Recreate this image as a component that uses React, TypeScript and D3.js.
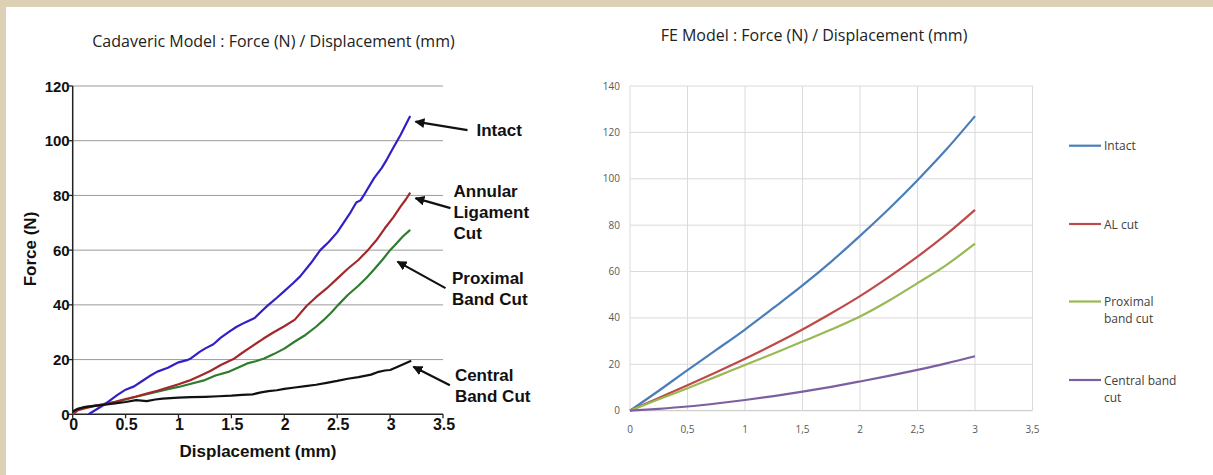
import React from 'react';
import * as d3 from 'd3';

// ---- cadaveric model (left) ----
const cadTicksX = [0, 0.5, 1, 1.5, 2, 2.5, 3, 3.5];
const cadTicksY = [0, 20, 40, 60, 80, 100, 120];

const cadIntact: [number, number][] = [
  [0.15, 0], [0.2, 1.2], [0.25, 2.4], [0.3, 3.6], [0.35, 5], [0.42, 7], [0.5, 9], [0.58, 10.2],
  [0.65, 12], [0.72, 13.8], [0.8, 15.6], [0.9, 17], [1.0, 19], [1.08, 19.8], [1.12, 20.5],
  [1.2, 22.8], [1.25, 24], [1.33, 25.6], [1.4, 28], [1.48, 30.2], [1.55, 32], [1.63, 33.6],
  [1.72, 35.2], [1.8, 38.2], [1.85, 40], [1.93, 42.6], [2.0, 45], [2.08, 47.8], [2.15, 50.4],
  [2.25, 55.2], [2.34, 60], [2.42, 63], [2.5, 66.5], [2.56, 70], [2.62, 73.4], [2.68, 77.4],
  [2.72, 78.2], [2.76, 80.6], [2.85, 86.4], [2.92, 90], [2.97, 93.2], [3.03, 97.4],
  [3.1, 102.2], [3.15, 106], [3.19, 109],
];
const cadAL: [number, number][] = [
  [0, 0], [0.05, 1.5], [0.12, 2.2], [0.2, 3], [0.3, 3.8], [0.4, 4.6], [0.5, 5.6], [0.6, 6.5],
  [0.7, 7.6], [0.8, 8.6], [0.9, 9.8], [1.0, 11], [1.1, 12.3], [1.2, 14], [1.3, 15.8],
  [1.4, 18], [1.52, 20.2], [1.6, 22.4], [1.7, 25], [1.8, 27.6], [1.9, 30], [2.0, 32.2],
  [2.1, 34.6], [2.21, 39.6], [2.3, 42.8], [2.4, 46], [2.5, 49.6], [2.6, 53.2], [2.7, 56.4],
  [2.79, 60], [2.87, 63.6], [2.95, 68], [3.03, 72], [3.1, 76], [3.15, 78.6], [3.19, 81],
];
const cadProx: [number, number][] = [
  [0, 1], [0.05, 2], [0.1, 2.6], [0.2, 3.1], [0.3, 3.5], [0.4, 4.4], [0.5, 5.4], [0.6, 6.4],
  [0.75, 7.8], [0.9, 9.2], [1.0, 10], [1.1, 11], [1.25, 12.5], [1.35, 14.2], [1.48, 15.6],
  [1.56, 17], [1.65, 18.6], [1.73, 19.4], [1.81, 20.4], [1.9, 22], [2.0, 24], [2.1, 26.6],
  [2.2, 29], [2.3, 32], [2.37, 34.4], [2.44, 37], [2.51, 40], [2.6, 43.6], [2.7, 47],
  [2.78, 50], [2.85, 53], [2.93, 56.6], [3.0, 60], [3.06, 62.4], [3.12, 65], [3.19, 67.4],
];
const cadCentral: [number, number][] = [
  [0, 1], [0.05, 2], [0.1, 2.5], [0.15, 2.8], [0.22, 3.2], [0.3, 3.5], [0.4, 4], [0.5, 4.5],
  [0.6, 5.2], [0.7, 4.8], [0.78, 5.4], [0.85, 5.7], [1.0, 6.1], [1.12, 6.3], [1.25, 6.4],
  [1.38, 6.6], [1.5, 6.8], [1.6, 7.1], [1.7, 7.3], [1.78, 8], [1.85, 8.5], [1.93, 8.8],
  [2.0, 9.3], [2.1, 9.8], [2.2, 10.3], [2.3, 10.8], [2.4, 11.5], [2.5, 12.2], [2.6, 13],
  [2.7, 13.6], [2.82, 14.5], [2.88, 15.4], [2.95, 16], [3.0, 16.2], [3.05, 17], [3.12, 18.2],
  [3.2, 19.6],
];

// ---- FE model (right) ----
const feTicksX = [0, 0.5, 1, 1.5, 2, 2.5, 3, 3.5];
const feTicksY = [0, 20, 40, 60, 80, 100, 120, 140];
const feIntact: [number, number][] = [
  [0, 0], [0.25, 8.6], [0.5, 17.5], [0.75, 26.2], [1, 35], [1.25, 44.4], [1.5, 54],
  [1.75, 64.3], [2, 75.4], [2.25, 87], [2.5, 99.4], [2.75, 112.6], [3, 127],
];
const feAL: [number, number][] = [
  [0, 0], [0.25, 5.5], [0.5, 11], [0.75, 16.6], [1, 22.4], [1.25, 28.5], [1.5, 35],
  [1.75, 42], [2, 49.4], [2.25, 57.6], [2.5, 66.4], [2.75, 76], [3, 86.6],
];
const feProx: [number, number][] = [
  [0, 0], [0.25, 4.9], [0.5, 9.7], [0.75, 14.7], [1, 19.7], [1.25, 24.7], [1.5, 29.8],
  [1.75, 35], [2, 40.6], [2.25, 47.4], [2.5, 55], [2.75, 62.8], [3, 72],
];
const feCentral: [number, number][] = [
  [0, 0], [0.25, 0.8], [0.5, 1.8], [0.75, 3.1], [1, 4.6], [1.25, 6.3], [1.5, 8.2],
  [1.75, 10.3], [2, 12.6], [2.25, 15], [2.5, 17.6], [2.75, 20.4], [3, 23.5],
];

const W = 1213;
const H = 475;
const bold = '"Liberation Sans", Arial, sans-serif';
const light = '"Open Sans", sans-serif';

export default function App() {
  const lx = d3.scaleLinear().domain([0, 3.5]).range([72.7, 443]);
  const ly = d3.scaleLinear().domain([0, 120]).range([414.3, 86]);
  const rx = d3.scaleLinear().domain([0, 3.5]).range([630, 1032.5]);
  const ry = d3.scaleLinear().domain([0, 140]).range([410.7, 86]);

  const lLine = d3.line<[number, number]>().x(d => lx(d[0])).y(d => ly(d[1]));
  const rLine = d3
    .line<[number, number]>()
    .x(d => rx(d[0]))
    .y(d => ry(d[1]))
    .curve(d3.curveMonotoneX);

  const cadSeries = [
    { data: cadProx, color: '#2f7d2c' },
    { data: cadAL, color: '#a3282c' },
    { data: cadIntact, color: '#3120c4' },
    { data: cadCentral, color: '#111111' },
  ];
  const feSeries = [
    { data: feIntact, color: '#4a7ebb', name: ['Intact'], ly: 145.7 },
    { data: feAL, color: '#be4b48', name: ['AL cut'], ly: 224 },
    { data: feProx, color: '#98b954', name: ['Proximal', 'band cut'], ly: 301.5 },
    { data: feCentral, color: '#7d5fa0', name: ['Central band', 'cut'], ly: 380 },
  ];

  // arrows: tip in data units, tail/label as pixel offsets from tip
  const notes = [
    { tip: [3.24, 107] as [number, number], tail: [52, 8.5], lines: ['Intact'], tx: 61, ty: 14 },
    { tip: [3.24, 79] as [number, number], tail: [35, 10], lines: ['Annular', 'Ligament', 'Cut'], tx: 38, ty: -1.5 },
    { tip: [3.07, 55.8] as [number, number], tail: [48, 26.5], lines: ['Proximal', 'Band Cut'], tx: 54.5, ty: 22.5 },
    { tip: [3.22, 17.4] as [number, number], tail: [36.5, 18.5], lines: ['Central', 'Band Cut'], tx: 41.5, ty: 14.5 },
  ];

  return (
    <svg width={W} height={H} style={{ position: 'absolute', left: 0, top: 0, background: '#fff' }}>
      <defs>
        <marker id="ah" viewBox="0 0 10 10" refX="9" refY="5" markerWidth="4.5" markerHeight="4.5" orient="auto-start-reverse" markerUnits="strokeWidth">
          <path d="M0,0 L10,5 L0,10 Z" fill="#111" />
        </marker>
      </defs>
      <rect x={0} y={0} width={W} height={7} fill="#ddd1b5" />
      <rect x={0} y={0} width={6} height={H} fill="#ddd1b5" />

      {/* left chart */}
      <text x={273.5} y={47} textAnchor="middle" fontFamily={light} fontSize={16} fill="#222">
        Cadaveric Model : Force (N) / Displacement (mm)
      </text>
      {cadTicksY.filter(t => t > 0).map(t => (
        <line key={t} x1={lx(0)} x2={lx(3.5)} y1={ly(t)} y2={ly(t)} stroke="#9a9a9a" strokeWidth={1} />
      ))}
      {cadTicksY.map(t => (
        <g key={'ly' + t}>
          <line x1={lx(0) - 4} x2={lx(0)} y1={ly(t)} y2={ly(t)} stroke="#222" strokeWidth={1.3} />
          <text x={lx(0) - 3} y={ly(t) + 5.5} textAnchor="end" fontFamily={bold} fontWeight="bold" fontSize={15} fill="#111">
            {t}
          </text>
        </g>
      ))}
      {cadTicksX.map(t => (
        <g key={'lx' + t}>
          <line x1={lx(t)} x2={lx(t)} y1={ly(0)} y2={ly(0) + 4} stroke="#222" strokeWidth={1.3} />
          <text x={lx(t) + 1} y={430} textAnchor="middle" fontFamily={bold} fontWeight="bold" fontSize={16} fill="#111">
            {t}
          </text>
        </g>
      ))}
      <line x1={lx(0)} x2={lx(0)} y1={ly(120)} y2={ly(0)} stroke="#222" strokeWidth={1.5} />
      <line x1={lx(0)} x2={lx(3.5)} y1={ly(0)} y2={ly(0)} stroke="#222" strokeWidth={1.5} />
      {cadSeries.map((s, i) => (
        <path key={i} d={lLine(s.data) ?? ''} fill="none" stroke={s.color} strokeWidth={2.2} strokeLinejoin="round" />
      ))}
      <text x={258} y={457} textAnchor="middle" fontFamily={bold} fontWeight="bold" fontSize={17} fill="#111">
        Displacement (mm)
      </text>
      <text transform="translate(36,249) rotate(-90)" textAnchor="middle" fontFamily={bold} fontWeight="bold" fontSize={17} fill="#111">
        Force (N)
      </text>
      {notes.map((n, i) => {
        const px = lx(n.tip[0]);
        const py = ly(n.tip[1]);
        return (
          <g key={'n' + i}>
            <line x1={px + n.tail[0]} y1={py + n.tail[1]} x2={px} y2={py} stroke="#111" strokeWidth={2.2} markerEnd="url(#ah)" />
            {n.lines.map((l, j) => (
              <text key={j} x={px + n.tx} y={py + n.ty + j * 21} fontFamily={bold} fontWeight="bold" fontSize={17} fill="#111">
                {l}
              </text>
            ))}
          </g>
        );
      })}

      {/* right chart */}
      <text x={814} y={41} textAnchor="middle" fontFamily={light} fontSize={16} fill="#222">
        FE Model : Force (N) / Displacement (mm)
      </text>
      {feTicksY.map(t => (
        <g key={'ry' + t}>
          <line x1={rx(0)} x2={rx(3.5)} y1={ry(t)} y2={ry(t)} stroke={t === 0 ? '#c4c4c4' : '#dadada'} strokeWidth={1} />
          <text x={620} y={ry(t) + 3.5} textAnchor="end" fontFamily={light} fontSize={10} fill="#595959">
            {t}
          </text>
        </g>
      ))}
      {feTicksX.map(t => (
        <g key={'rx' + t}>
          <line x1={rx(t)} x2={rx(t)} y1={ry(0)} y2={ry(140)} stroke="#dadada" strokeWidth={1} />
          <text x={rx(t)} y={433} textAnchor="middle" fontFamily={light} fontSize={10} fill="#595959">
            {String(t).replace('.', ',')}
          </text>
        </g>
      ))}
      {feSeries.map((s, i) => (
        <path key={i} d={rLine(s.data) ?? ''} fill="none" stroke={s.color} strokeWidth={2.2} />
      ))}
      {feSeries.map((s, i) => (
        <g key={'lg' + i}>
          <line x1={1069} x2={1101} y1={s.ly} y2={s.ly} stroke={s.color} strokeWidth={2.2} />
          {s.name.map((l, j) => (
            <text key={j} x={1104} y={s.ly + 4.5 + j * 17} fontFamily={light} fontSize={12} fill="#404040">
              {l}
            </text>
          ))}
        </g>
      ))}
    </svg>
  );
}
